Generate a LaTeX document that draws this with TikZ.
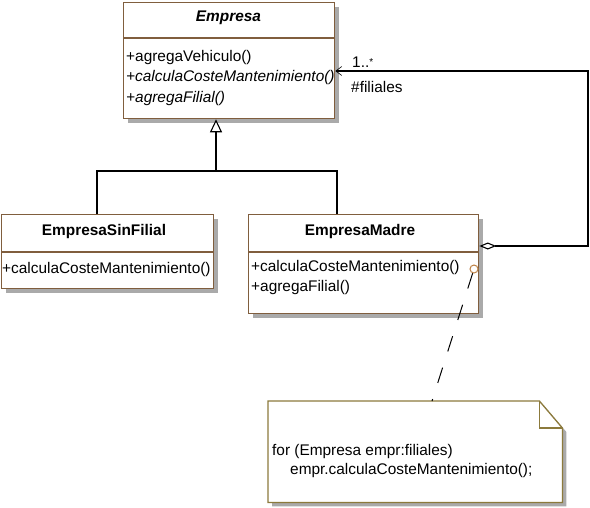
\documentclass[tikz,border=0pt]{standalone}
\usepackage{fontspec}
\setmainfont{Liberation Sans}
\usetikzlibrary{shadows,arrows.meta,calc}
\definecolor{boxbrown}{RGB}{128,94,62}
\definecolor{noteolive}{RGB}{140,122,60}
\definecolor{shadowgray}{RGB}{170,170,170}
\definecolor{dotbrown}{RGB}{190,130,70}
\begin{document}
\begin{tikzpicture}[x=1pt,y=-1pt,
  font=\fontsize{15.4}{18}\selectfont,
  classbox/.style={draw=boxbrown, line width=1.3pt, fill=white, anchor=north west, inner sep=0pt,
    general shadow={fill=shadowgray, shadow xshift=4pt, shadow yshift=-4pt}},
  septext/.style={anchor=west, inner sep=0pt},
  titletext/.style={inner sep=0pt, font=\fontsize{15.4}{18}\selectfont\bfseries},
  sepline/.style={draw=boxbrown, line width=1.3pt},
  conn/.style={draw=black, line width=1.2pt},
  lbl/.style={anchor=west, inner sep=0pt}
]
\useasboundingbox (0,0) rectangle (590,507);

% ---- classes ----
\node[classbox, minimum width=211pt, minimum height=116pt] (emp) at (123,2) {};
\node[classbox, minimum width=212pt, minimum height=74pt] (esf) at (1,214) {};
\node[classbox, minimum width=230pt, minimum height=99pt] (em) at (248,214) {};

% separators
\draw[sepline] (emp.west |- 0,38) -- (emp.east |- 0,38);
\draw[sepline] (esf.west |- 0,252) -- (esf.east |- 0,252);
\draw[sepline] (em.west |- 0,252) -- (em.east |- 0,252);

% texts
\node[titletext, font=\fontsize{15.4}{18}\selectfont\bfseries\itshape] (empname) at (228.5,18) {Empresa};
\node[septext] (empop1) at (126,58) {+agregaVehiculo()};
\node[septext, font=\fontsize{15.4}{18}\selectfont\itshape] (empop2) at (126,78) {+calculaCosteMantenimiento()};
\node[septext, font=\fontsize{15.4}{18}\selectfont\itshape] (empop3) at (126,99) {+agregaFilial()};

\node[titletext] (esfname) at (104,232) {EmpresaSinFilial};
\node[septext] (esfop1) at (2,270) {+calculaCosteMantenimiento()};

\node[titletext] (emname) at (360,232) {EmpresaMadre};
\node[septext] (emop1) at (251,268) {+calculaCosteMantenimiento()};
\node[septext] (emop2) at (251,288) {+agregaFilial()};

% ---- generalization ----
\coordinate (gx) at (216,171);
\coordinate (lx) at (97,171);
\coordinate (rx) at (337,171);
\draw[conn] (esf.north -| lx) -- (lx) -- (rx) -- (em.north -| rx);
\draw[conn, -{Triangle[open, length=13pt, width=12pt, line width=1.1pt]}] (gx) -- (emp.south -| gx);

% ---- aggregation ----
\coordinate (ay) at (0,246);
\coordinate (by) at (0,71);
\coordinate (cx) at (588,0);
\draw[conn, {Diamond[open, length=17pt, width=7pt, line width=1.1pt]}-{Straight Barb[length=6pt, width=9pt, line width=0.6pt]}]
  (em.east |- ay) -- (cx |- ay) -- (cx |- by) -- (emp.east |- by);
\node[lbl] (mult) at (352,62) {1..\raisebox{2pt}{\fontsize{10}{10}\selectfont *}};
\node[lbl] (role) at (351,87) {\#filiales};

% ---- note ----
\node[anchor=north west, minimum width=294pt, minimum height=101pt, inner sep=0pt] (note) at (268,401) {};
\fill[shadowgray] ($(note.north west)+(4,4)$) -- ($(note.north east)+(-19,4)$) -- ($(note.north east)+(4,31)$)
  -- ($(note.south east)+(4,4)$) -- ($(note.south west)+(4,4)$) -- cycle;
\draw[noteolive, line width=1.3pt, fill=white] (note.north west) -- ($(note.north east)+(-23,0)$)
  -- ($(note.north east)+(0,27)$) -- (note.south east) -- (note.south west) -- cycle;
\draw[noteolive, line width=1.3pt] ($(note.north east)+(-23,0)$) -- ($(note.north east)+(-23,27)$) -- ($(note.north east)+(0,27)$);
\node[lbl] (nl1) at (272,452) {for (Empresa empr:filiales)};
\node[lbl] (nl2) at (290,471) {empr.calculaCosteMantenimiento();};

% ---- note anchor ----
\node[circle, draw=dotbrown, line width=1pt, fill=white, minimum size=8pt, inner sep=0pt] (dot) at (474,269) {};
\coordinate (nx) at (432,0);
\draw[conn, line width=1pt, dash pattern=on 16pt off 17pt] (dot) -- (note.north -| nx);
\end{tikzpicture}
\end{document}
